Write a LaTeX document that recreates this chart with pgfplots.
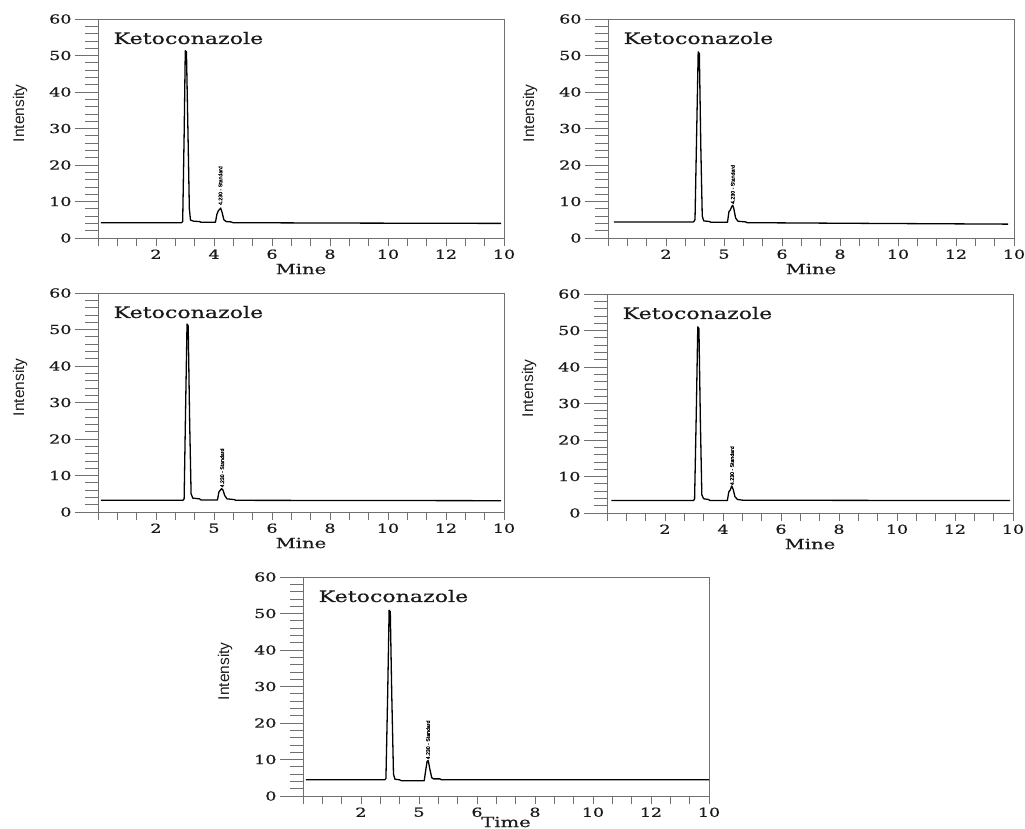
\documentclass[border=0pt]{standalone}
\usepackage{pgfplots}
\pgfplotsset{compat=1.18}
\usepackage{fontspec}
\setmainfont{DejaVu Serif}[FakeStretch=1.4, FakeBold=0.6]
\newfontfamily\labelfont{Liberation Sans}
\newfontfamily\tinyfont{Liberation Sans}[FakeBold=1.2]
\definecolor{axiscol}{HTML}{707070}
\definecolor{txtcol}{HTML}{1a1a1a}
\pgfplotsset{
  base/.style={
    width=406pt, height=219pt, scale only axis,
    xmin=0, xmax=14, ymin=0, ymax=60,
    axis line style={axiscol, line width=0.8pt},
    tick style={axiscol, line width=0.8pt},
    tick align=outside,
    /pgf/number format/assume math mode=true,
    tick label style={font=\fontsize{12.5}{14}\selectfont, text=txtcol},
  },
  chrom/.style={
    base,
    xtick pos=bottom, ytick pos=left,
    major tick length=23pt, minor tick length=13pt,
    xtick=\empty,
    ytick={0,10,20,30,40,50,60},
    minor y tick num=4,
    ylabel={Intensity},
    ylabel style={at={(axis description cs:-0.192,0.57)}, anchor=center, font=\fontsize{15.5}{17}\selectfont\labelfont, text=txtcol},
  },
  xonly/.style={
    base,
    axis x line*=bottom, axis y line=none,
    ytick=\empty,
    major tick length=8pt,
    xtick={0,0.66667,1.33333,2,2.66667,3.33333,4,4.66667,5.33333,6,6.66667,7.33333,8,8.66667,9.33333,10,10.66667,11.33333,12,12.66667,13.33333,14},
    xlabel style={at={(axis description cs:0.5,0)}, anchor=center, yshift=-31pt, font=\fontsize{14}{16}\selectfont, text=txtcol},
  },
  lab4/.style={xticklabels={{},{},{},2,{},{},4,{},{},6,{},{},8,{},{},10,{},{},12,{},{},10}},
  lab5/.style={xticklabels={{},{},{},2,{},{},5,{},{},6,{},{},8,{},{},10,{},{},12,{},{},10}},
  trace/.style={black, line width=1.3pt, line join=round, mark=none},
}
\newcommand{\chromtitle}{\node[anchor=base west, font=\fontsize{15.8}{18}\selectfont, text=txtcol] at (axis description cs:0.03,0.886) {Ketoconazole};}
\newcommand{\peaklabel}[2]{\node[rotate=90, anchor=west, inner sep=0pt, font=\fontsize{5.2}{6}\selectfont\tinyfont, text=black] at (axis cs:#1,#2) {4.230 - Standard};}
\begin{document}
\begin{tikzpicture}
\path[use as bounding box] (0pt,0pt) rectangle (1025pt,-829pt);
% Panel 1
\begin{axis}[chrom, at={(98pt,-238pt)}, anchor=south west]
\addplot[trace] coordinates {(0.1,4.2)(2.88,4.2)(2.92,4.5)(2.97,28)(3.01,51.3)(3.05,51.0)(3.10,30)(3.15,8)(3.19,4.9)(3.3,4.6)(3.5,4.5)(3.55,4.3)(4.05,4.3)(4.10,6.5)(4.15,7.5)(4.19,7.8)(4.23,8.2)(4.28,7)(4.34,5)(4.42,4.5)(4.6,4.4)(4.65,4.2)(8,4.1)(13.9,4.0)};
\chromtitle
\peaklabel{4.22}{9}
\end{axis}
\begin{axis}[xonly, lab4, xlabel={Mine}, at={(98pt,-238pt)}, anchor=south west]
\end{axis}
% Panel 2
\begin{axis}[chrom, at={(608pt,-238pt)}, anchor=south west]
\addplot[trace] coordinates {(0.2,4.4)(2.95,4.4)(3.0,5)(3.06,30)(3.11,51.0)(3.15,50.5)(3.2,25)(3.25,6)(3.3,4.7)(3.5,4.5)(3.55,4.3)(4.12,4.3)(4.17,7.2)(4.22,7.7)(4.26,8.5)(4.30,9.0)(4.34,8.0)(4.4,5.5)(4.48,4.6)(4.75,4.4)(4.8,4.2)(9,4.0)(13.8,3.8)};
\chromtitle
\peaklabel{4.30}{9.3}
\end{axis}
\begin{axis}[xonly, lab5, xlabel={Mine}, at={(608pt,-238pt)}, anchor=south west]
\end{axis}
% Panel 3
\begin{axis}[chrom, at={(98pt,-512pt)}, anchor=south west]
\addplot[trace] coordinates {(0.1,3.2)(2.93,3.2)(2.97,3.6)(3.02,28)(3.07,51.5)(3.11,51.0)(3.16,25)(3.21,5)(3.27,3.8)(3.5,3.6)(3.55,3.3)(4.12,3.3)(4.17,5.5)(4.21,5.9)(4.26,6.4)(4.31,6.0)(4.37,4.5)(4.45,3.6)(4.7,3.4)(4.75,3.2)(13.9,3.1)};
\chromtitle
\peaklabel{4.28}{6.7}
\end{axis}
\begin{axis}[xonly, lab5, xlabel={Mine}, at={(98pt,-512pt)}, anchor=south west]
\end{axis}
% Panel 4
\begin{axis}[chrom, at={(607pt,-513pt)}, anchor=south west]
\addplot[trace] coordinates {(0.15,3.4)(2.98,3.4)(3.02,3.8)(3.08,28)(3.13,51.0)(3.17,50.5)(3.22,25)(3.27,5)(3.33,3.9)(3.5,3.7)(3.55,3.4)(4.15,3.4)(4.2,5.8)(4.25,6.3)(4.3,7.4)(4.35,6.5)(4.41,4.5)(4.5,3.7)(4.7,3.5)(13.9,3.4)};
\chromtitle
\peaklabel{4.31}{7.6}
\end{axis}
\begin{axis}[xonly, lab4, xlabel={Mine}, at={(607pt,-513pt)}, anchor=south west]
\end{axis}
% Panel 5
\begin{axis}[chrom, at={(303pt,-796pt)}, anchor=south west]
\addplot[trace] coordinates {(0.1,4.45)(2.82,4.45)(2.86,4.8)(2.92,28)(2.97,50.9)(3.01,50.5)(3.06,28)(3.12,6)(3.17,4.6)(3.33,4.45)(3.38,4.2)(4.18,4.2)(4.23,7)(4.28,9.5)(4.32,9.7)(4.37,7.5)(4.44,5)(4.5,4.7)(4.72,4.7)(4.77,4.45)(14,4.45)};
\chromtitle
\peaklabel{4.31}{10}
\end{axis}
\begin{axis}[xonly, lab5, xlabel={Time}, xlabel style={yshift=5pt}, at={(303pt,-796pt)}, anchor=south west]
\end{axis}
\end{tikzpicture}
\end{document}
